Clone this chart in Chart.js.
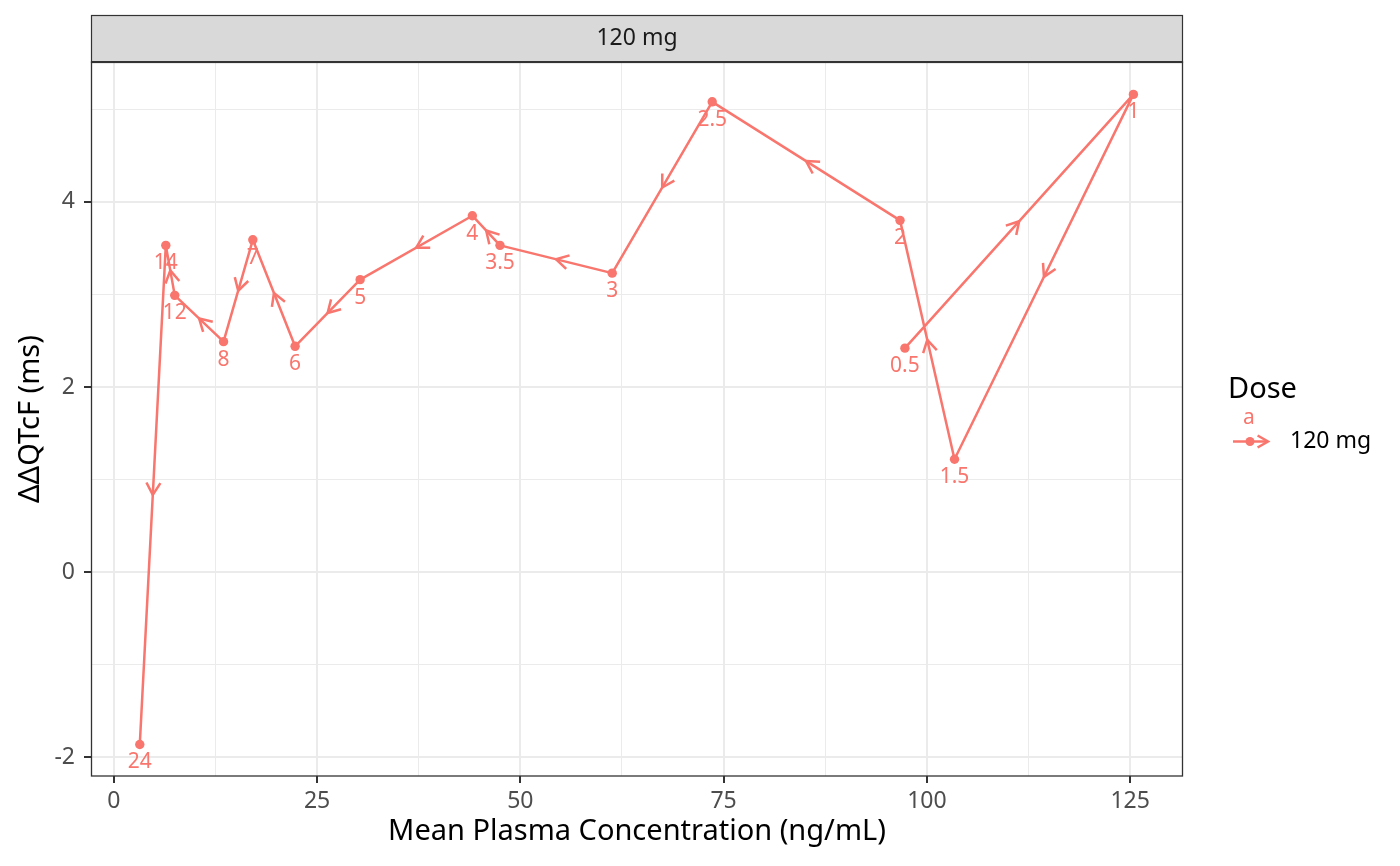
<!DOCTYPE html>
<html><head><meta charset="utf-8">
<script src="https://cdn.jsdelivr.net/npm/chart.js@4.4.0/dist/chart.umd.min.js"></script>
<style>html,body{margin:0;padding:0;background:#fff;} canvas{display:block;}</style>
</head><body>
<canvas id="c" width="1400" height="866" style="width:1400px;height:866px"></canvas>
<script>
// ---- data ----
const timeLabels = ['0.5','1','1.5','2','2.5','3','3.5','4','5','6','7','8','12','14','24'];
const concentration = [97.3,125.4,103.4,96.7,73.6,61.3,47.5,44.1,30.3,22.3,17.1,13.5,7.5,6.4,3.2];
const ddqtcf = [2.42,5.16,1.22,3.80,5.08,3.23,3.53,3.85,3.16,2.44,3.59,2.49,2.99,3.53,-1.86];
const doseLabel = '120 mg';
const xMajorTicks = [0,25,50,75,100,125];
const yMajorTicks = [-2,0,2,4];
const xTitle = 'Mean Plasma Concentration (ng/mL)';
const yTitle = 'ΔΔQTcF (ms)';
const legendTitle = 'Dose';

// ---- style ----
const RED = '#F8766D';
const FONT = "'Noto Sans', 'DejaVu Sans', sans-serif";
const GRID = '#EBEBEB';

function drawHead(ctx, x, y, ang, len){
  const spread = Math.PI/6;
  ctx.beginPath();
  ctx.moveTo(x - len*Math.cos(ang - spread), y - len*Math.sin(ang - spread));
  ctx.lineTo(x, y);
  ctx.lineTo(x - len*Math.cos(ang + spread), y - len*Math.sin(ang + spread));
  ctx.stroke();
}

const overlay = {
  id: 'overlay',
  afterDatasetsDraw(chart){
    const ctx = chart.ctx;
    const pts = chart.getDatasetMeta(0).data;
    ctx.save();
    ctx.strokeStyle = RED; ctx.lineWidth = 2.5; ctx.lineJoin = 'round'; ctx.lineCap = 'butt';
    for (let i = 0; i < pts.length - 1; i++){
      const a = pts[i], b = pts[i+1];
      drawHead(ctx, (a.x+b.x)/2, (a.y+b.y)/2, Math.atan2(b.y-a.y, b.x-a.x), 14);
    }
    ctx.fillStyle = RED; ctx.font = '21px ' + FONT; ctx.textAlign = 'center'; ctx.textBaseline = 'middle';
    pts.forEach((p, i) => ctx.fillText(timeLabels[i], p.x, p.y + 18));
    ctx.restore();
  },
  afterDraw(chart){
    const ctx = chart.ctx;
    const ca = chart.chartArea;
    ctx.save();
    // strip
    ctx.fillStyle = '#D9D9D9';
    ctx.fillRect(ca.left, 15, ca.right - ca.left, ca.top - 15);
    ctx.strokeStyle = '#333333'; ctx.lineWidth = 1.2;
    ctx.strokeRect(ca.left + 0.5, 15.5, ca.right - ca.left - 1, ca.top - 15);
    ctx.fillStyle = '#1A1A1A'; ctx.font = '23px ' + FONT; ctx.textAlign = 'center'; ctx.textBaseline = 'middle';
    ctx.fillText(doseLabel, (ca.left + ca.right)/2, (15 + ca.top)/2);
    // panel border
    ctx.strokeStyle = '#333333'; ctx.lineWidth = 1.3;
    ctx.strokeRect(ca.left + 0.5, ca.top, ca.right - ca.left - 1, ca.bottom - ca.top);
    ctx.lineWidth = 2.2;
    ctx.beginPath(); ctx.moveTo(ca.left, ca.top); ctx.lineTo(ca.right, ca.top); ctx.stroke();
    // legend
    ctx.fillStyle = '#000'; ctx.font = '29px ' + FONT; ctx.textAlign = 'left'; ctx.textBaseline = 'middle';
    ctx.fillText(legendTitle, 1228, 390);
    const ky = 441.5;
    ctx.strokeStyle = RED; ctx.lineWidth = 2.5;
    ctx.beginPath(); ctx.moveTo(1233, ky); ctx.lineTo(1268, ky); ctx.stroke();
    drawHead(ctx, 1268, ky, 0, 12);
    ctx.fillStyle = RED;
    ctx.beginPath(); ctx.arc(1250, ky, 4.5, 0, Math.PI*2); ctx.fill();
    ctx.font = '21px ' + FONT; ctx.textAlign = 'center';
    ctx.fillText('a', 1249, 418);
    ctx.fillStyle = '#000'; ctx.font = '23px ' + FONT; ctx.textAlign = 'left';
    ctx.fillText(doseLabel, 1290, ky);
    ctx.restore();
  }
};

const isMajorX = v => xMajorTicks.includes(v);
const isMajorY = v => yMajorTicks.includes(v);

new Chart(document.getElementById('c'), {
  type: 'scatter',
  data: {
    datasets: [{
      label: doseLabel,
      data: concentration.map((x, i) => ({x: x, y: ddqtcf[i]})),
      showLine: true,
      borderColor: RED,
      backgroundColor: RED,
      pointBackgroundColor: RED,
      pointBorderWidth: 0,
      borderWidth: 2.5,
      borderJoinStyle: 'round',
      borderCapStyle: 'round',
      pointRadius: 4.7,
      pointHoverRadius: 4.7,
      tension: 0
    }]
  },
  options: {
    responsive: false,
    animation: false,
    devicePixelRatio: 1,
    layout: {padding: {top: 62, right: 217, left: 0, bottom: 0}},
    plugins: {legend: {display: false}, tooltip: {enabled: false}},
    scales: {
      x: {
        type: 'linear', min: -2.8, max: 131.5,
        afterFit(s){ s.height = 90; },
        ticks: {
          stepSize: 12.5, includeBounds: false, autoSkip: false, maxRotation: 0, minRotation: 0,
          padding: 5, color: '#4D4D4D', font: {family: FONT, size: 23},
          callback: v => isMajorX(v) ? String(v) : ''
        },
        grid: {
          color: GRID,
          lineWidth: c => (c.tick && isMajorX(c.tick.value)) ? 2 : 1,
          tickColor: c => (c.tick && isMajorX(c.tick.value)) ? '#333333' : 'rgba(0,0,0,0)',
          tickLength: 7, tickWidth: 2
        },
        border: {display: false},
        title: {display: true, text: xTitle, color: '#000', font: {family: FONT, size: 29}, padding: {top: 0, bottom: 17}}
      },
      y: {
        type: 'linear', min: -2.2, max: 5.51,
        afterFit(s){ s.width = 91; },
        ticks: {
          stepSize: 1, includeBounds: false, autoSkip: false,
          padding: 9, color: '#4D4D4D', font: {family: FONT, size: 23},
          callback: v => isMajorY(v) ? String(v) : ''
        },
        grid: {
          color: GRID,
          lineWidth: c => (c.tick && isMajorY(c.tick.value)) ? 2 : 1,
          tickColor: c => (c.tick && isMajorY(c.tick.value)) ? '#333333' : 'rgba(0,0,0,0)',
          tickLength: 7, tickWidth: 2
        },
        border: {display: false},
        title: {display: true, text: yTitle, color: '#000', font: {family: FONT, size: 29}, padding: {top: 13, bottom: 0}}
      }
    }
  },
  plugins: [overlay]
});
</script>
</body></html>
